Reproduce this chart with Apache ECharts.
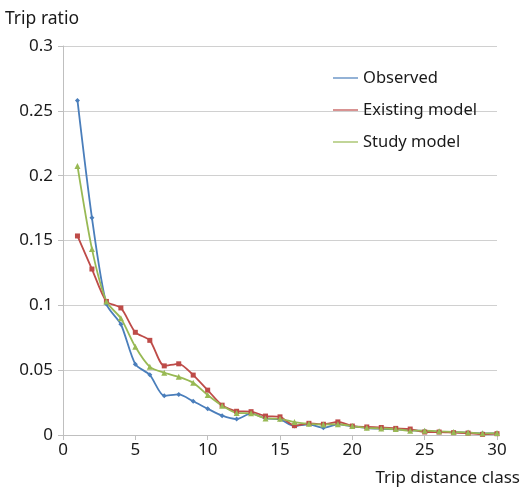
<!DOCTYPE html>
<html>
<head>
<meta charset="utf-8">
<script src="https://cdn.jsdelivr.net/npm/echarts@6/dist/echarts.min.js"></script>
<style>
  html, body { margin: 0; padding: 0; background: #fff; }
  #chart { width: 523px; height: 488px; }
</style>
</head>
<body>
<div id="chart"></div>
<script>
// Trip distance classes 1..30
const distanceClass = [1,2,3,4,5,6,7,8,9,10,11,12,13,14,15,16,17,18,19,20,21,22,23,24,25,26,27,28,29,30];

const observed = [0.258, 0.1675, 0.101, 0.0854, 0.0546, 0.0464, 0.0302, 0.0313, 0.026, 0.0203,
  0.0149, 0.0123, 0.0167, 0.0128, 0.012, 0.0069, 0.0082, 0.0056, 0.0082, 0.0067,
  0.0054, 0.0048, 0.0043, 0.0036, 0.0031, 0.0026, 0.0022, 0.0018, 0.0013, 0.0013];

const existingModel = [0.1535, 0.128, 0.103, 0.098, 0.0792, 0.073, 0.0533, 0.0549, 0.0462, 0.0346,
  0.023, 0.0183, 0.018, 0.0146, 0.0140, 0.0072, 0.009, 0.0083, 0.0101, 0.0069,
  0.0062, 0.0058, 0.0051, 0.0046, 0.0023, 0.0023, 0.0018, 0.0015, 0.0005, 0.001];

const studyModel = [0.2075, 0.1435, 0.103, 0.09, 0.068, 0.0526, 0.048, 0.0449, 0.0403, 0.0308,
  0.0226, 0.017, 0.0167, 0.0128, 0.0125, 0.0100, 0.0086, 0.0081, 0.0083, 0.0069,
  0.0055, 0.0051, 0.0046, 0.0033, 0.0033, 0.0028, 0.0023, 0.002, 0.0013, 0.0015];

const pairs = (ys) => ys.map((v, i) => [distanceClass[i], v]);

const FONT = '"Noto Sans", "Open Sans", sans-serif';
const TEXT = '#1a1a1a';

const chart = echarts.init(document.getElementById('chart'), null, { renderer: 'canvas' });

function lineSeries(name, data, color, symbol, symbolSize) {
  return {
    name: name,
    type: 'line',
    data: pairs(data),
    smooth: 0.25,
    symbol: symbol,
    symbolSize: symbolSize,
    showSymbol: true,
    lineStyle: { color: color, width: 1.8 },
    itemStyle: { color: color },
    emphasis: { disabled: true },
    animation: false
  };
}

const legendIcon = 'path://M0,4.4L25,4.4L25,5.6L0,5.6Z';

chart.setOption({
  backgroundColor: '#ffffff',
  animation: false,
  grid: { left: 63, right: 25, top: 46, bottom: 53, containLabel: false },
  legend: {
    left: 328,
    top: 64,
    orient: 'vertical',
    itemGap: 14,
    itemWidth: 25,
    itemHeight: 10,
    textStyle: { fontFamily: FONT, fontSize: 16.5, color: TEXT, lineHeight: 18 },
    data: [
      { name: 'Observed', icon: legendIcon },
      { name: 'Existing model', icon: legendIcon },
      { name: 'Study model', icon: legendIcon }
    ]
  },
  xAxis: {
    type: 'value',
    min: 0,
    max: 30,
    interval: 5,
    name: 'Trip distance class',
    nameLocation: 'end',
    nameGap: 0,
    nameTextStyle: { fontFamily: FONT, fontSize: 17, color: TEXT, align: 'right', verticalAlign: 'top', padding: [35, -23, 0, 0] },
    axisLine: { show: true, lineStyle: { color: '#bfbfbf', width: 1 } },
    axisTick: { show: true, inside: false, length: 5, lineStyle: { color: '#bfbfbf' } },
    axisLabel: { fontFamily: FONT, fontSize: 17, color: TEXT, margin: 7 },
    splitLine: { show: false }
  },
  yAxis: {
    type: 'value',
    min: 0,
    max: 0.3,
    interval: 0.05,
    name: 'Trip ratio',
    nameLocation: 'end',
    nameGap: 18,
    nameTextStyle: { fontFamily: FONT, fontSize: 17.5, color: TEXT, align: 'left', padding: [0, 0, 0, -58] },
    axisLine: { show: true, lineStyle: { color: '#bfbfbf', width: 1 } },
    axisTick: { show: true, inside: false, length: 5, lineStyle: { color: '#bfbfbf' } },
    axisLabel: { fontFamily: FONT, fontSize: 17, color: TEXT, margin: 10 },
    splitLine: { show: true, lineStyle: { color: '#d0d0d0', width: 1 } }
  },
  series: [
    lineSeries('Observed', observed, '#4a7ebb', 'diamond', 5),
    lineSeries('Existing model', existingModel, '#be4b48', 'rect', 5),
    lineSeries('Study model', studyModel, '#98b954', 'triangle', 6)
  ]
});
</script>
</body>
</html>
